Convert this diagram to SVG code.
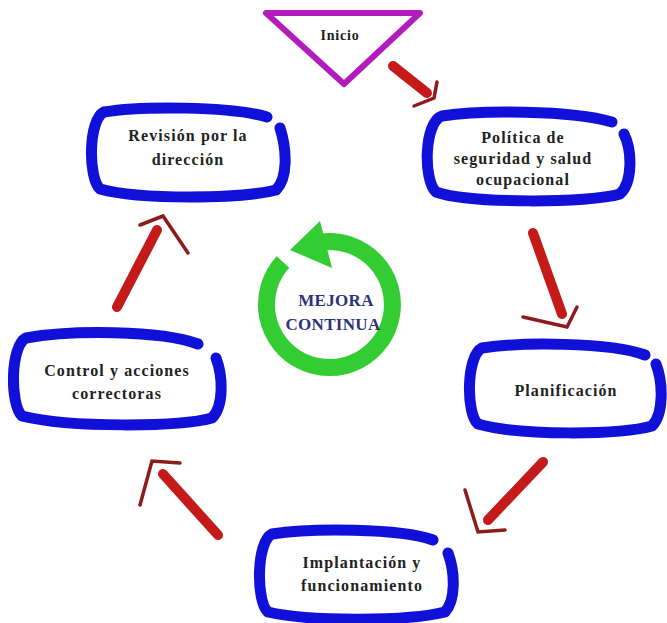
<svg xmlns="http://www.w3.org/2000/svg" width="667" height="623" viewBox="0 0 667 623">
<style>
.loop{fill:none;stroke:#1010d8;stroke-width:11;stroke-linecap:round;stroke-linejoin:round}
.lbl{font-family:'Liberation Serif','DejaVu Serif','Times New Roman',serif;font-weight:bold;font-size:16px;letter-spacing:1.1px;fill:#222;text-anchor:middle}
.big{font-size:17px;letter-spacing:0.3px;fill:#2b3278}
.small{font-size:14px;letter-spacing:0.8px}
.shaft{fill:none;stroke:#c41a1a;stroke-width:10;stroke-linecap:round}
.head{fill:none;stroke:#8e1b1b;stroke-width:3.5;stroke-linecap:round;stroke-linejoin:miter}
</style>
<rect width="667" height="623" fill="#ffffff"/>
<g id="inicio">
<path d="M266,13 L420,13 L344,84 Z" fill="none" stroke="#b21cbd" stroke-width="6" stroke-linejoin="round"/>
<text class="lbl small" x="340" y="40">Inicio</text>
</g>
<g id="politica">
<path class="loop" d="M612,122 C570,110 480,110 442,116 C424,122 423,180 436,192 C470,204 590,203 620,194 C633,182 632,150 624,134"/>
<text class="lbl" x="523" y="143">Política de</text>
<text class="lbl" x="523" y="164">seguridad y salud</text>
<text class="lbl" x="523" y="185">ocupacional</text>
</g>
<g id="revision">
<path class="loop" d="M267,117 C230,106 140,106 104,112 C88,120 88,178 100,189 C140,200 240,199 276,190 C288,178 287,150 280,128"/>
<text class="lbl" x="188" y="141">Revisión por la</text>
<text class="lbl" x="188" y="165">dirección</text>
</g>
<g id="planificacion">
<path class="loop" d="M645,355 C610,342 520,342 482,348 C466,356 466,414 478,424 C520,436 620,435 652,426 C664,414 663,382 656,364"/>
<text class="lbl" x="566" y="396">Planificación</text>
</g>
<g id="control">
<path class="loop" d="M198,344 C160,330 70,330 26,338 C10,346 10,405 22,416 C70,428 180,427 212,418 C224,406 223,376 216,358"/>
<text class="lbl" x="117" y="376">Control y acciones</text>
<text class="lbl" x="117" y="399">correctoras</text>
</g>
<g id="implantacion">
<path class="loop" d="M433,540 C400,528 310,528 272,534 C256,542 256,602 268,612 C310,622 410,621 445,612 C456,600 455,572 448,553"/>
<text class="lbl" x="362" y="568">Implantación y</text>
<text class="lbl" x="362" y="591">funcionamiento</text>
</g>
<g id="mejora">
<path d="M322,242 A63,63 0 1 1 283,262" fill="none" stroke="#33cc33" stroke-width="17"/>
<path d="M290,250 L320,221 L332,268 Z" fill="#33cc33"/>
<text class="lbl big" x="336" y="306">MEJORA</text>
<text class="lbl big" x="333" y="330">CONTINUA</text>
</g>
<g id="connectors">
<path class="shaft" d="M393,66 L427,93"/>
<path class="head" d="M437,82 L434,98 L414,106"/>
<path class="shaft" d="M533,233 L562,314"/>
<path class="head" d="M523,317 L567,327 L577,307"/>
<path class="shaft" d="M543,462 L488,520"/>
<path class="head" d="M465,490 L478,532 L505,530"/>
<path class="shaft" d="M218,535 L163,474"/>
<path class="head" d="M140,505 L152,461 L180,463"/>
<path class="shaft" d="M117,307 L157,230"/>
<path class="head" d="M140,225 L163,216 L188,253"/>
</g>
</svg>
